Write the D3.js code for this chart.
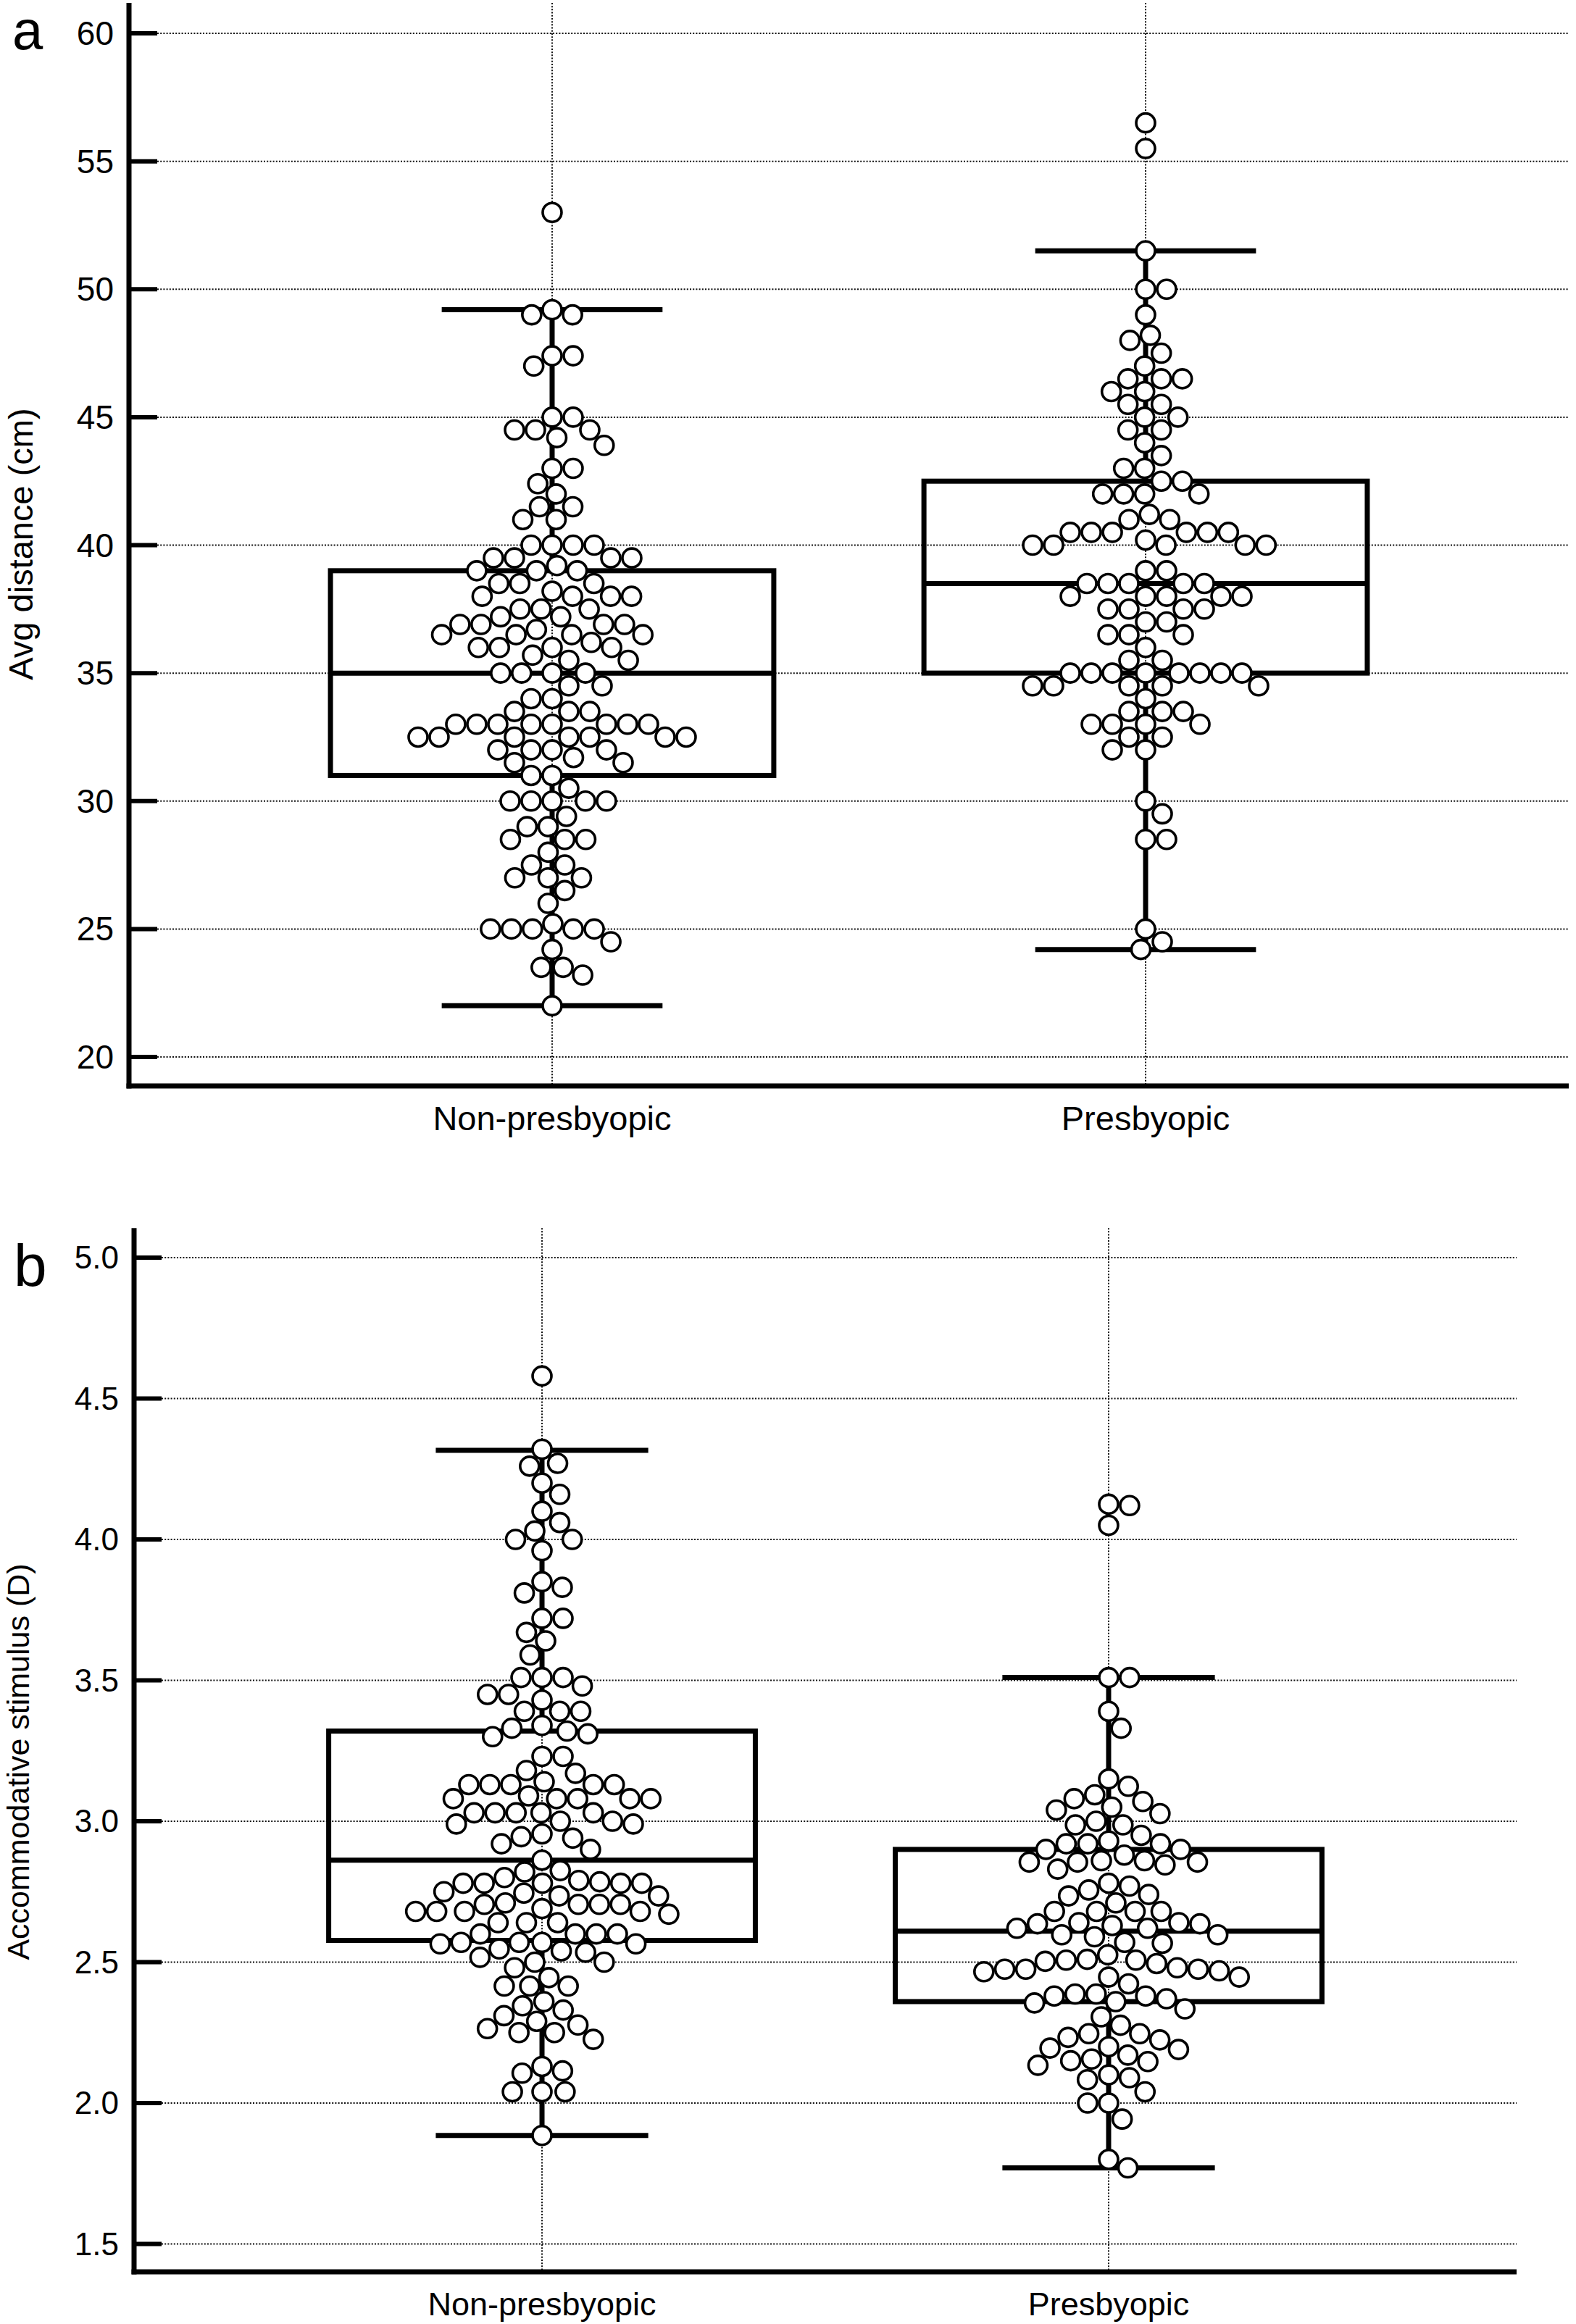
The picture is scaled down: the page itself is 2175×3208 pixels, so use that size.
<!DOCTYPE html>
<html><head><meta charset="utf-8">
<script src="https://cdn.jsdelivr.net/npm/d3@7"></script>
<style>
body{margin:0;background:#fff}
text{font-family:"Liberation Sans",Arial,Helvetica,sans-serif;fill:#000}
</style>
</head><body>
<svg id="chart" width="2175" height="3208"></svg>
<script>
// ---------------- DATA ----------------
const categories = ["Non-presbyopic", "Presbyopic"];

const distNonPresbyopic = [53.0,49.0,49.0,49.2,47.4,47.4,47.0,45.0,45.0,44.5,44.5,44.5,44.2,43.9,43.0,43.0,42.4,42.0,41.5,41.5,41.0,41.0,
 40.0,40.0,40.0,40.0,39.5,39.5,39.5,39.5,39.2,39.0,39.0,39.0,38.5,38.5,38.5,38.2,38.0,38.0,38.0,38.0,
 37.5,37.5,37.5,37.2,37.2,36.9,36.9,36.9,36.9,36.7,36.5,36.5,36.5,36.5,36.2,36.0,36.0,36.0,36.0,35.7,35.5,35.5,
 35.0,35.0,35.0,35.0,34.5,34.5,34.0,34.0,33.5,33.5,33.5,33.0,33.0,33.0,33.0,33.0,33.0,33.0,33.0,
 32.5,32.5,32.5,32.5,32.5,32.5,32.5,32.0,32.0,32.0,32.0,31.7,31.5,31.5,31.0,31.0,30.5,30.0,30.0,30.0,30.0,30.0,
 29.4,29.0,29.0,28.5,28.5,28.5,28.0,27.5,27.5,27.0,27.0,27.0,26.5,26.0,25.2,25.0,25.0,25.0,25.0,25.0,24.5,24.2,23.5,23.5,23.2,22.0];

const distPresbyopic = [56.5,55.5,51.5,50.0,50.0,49.0,48.2,48.0,47.5,47.0,46.5,46.5,46.5,46.0,46.0,45.5,45.5,45.0,45.0,44.5,44.5,44.0,43.5,
 43.0,43.0,42.5,42.5,42.0,42.0,42.0,42.0,41.2,41.0,41.0,40.5,40.5,40.5,40.5,40.5,40.5,40.2,40.0,40.0,40.0,40.0,40.0,39.0,39.0,
 38.5,38.5,38.5,38.5,38.5,38.0,38.0,38.0,38.0,38.0,37.5,37.5,37.5,37.5,37.0,37.0,36.5,36.5,36.5,36.0,35.5,35.5,
 35.0,35.0,35.0,35.0,35.0,35.0,35.0,35.0,34.5,34.5,34.5,34.5,34.5,34.0,33.5,33.5,33.5,33.0,33.0,33.0,33.0,32.5,32.5,32.0,32.0,
 30.0,29.5,28.5,28.5,25.0,24.5,24.2];

const stimNonPresbyopic = [4.58,4.32,4.27,4.26,4.20,4.16,4.10,4.06,4.03,4.00,4.00,3.96,3.85,3.83,3.81,3.72,3.72,3.67,3.64,3.59,
 3.51,3.51,3.51,3.48,3.45,3.45,3.43,3.39,3.39,3.39,3.34,3.33,3.32,3.31,3.30,3.23,3.23,3.18,3.17,3.14,3.13,3.13,3.13,3.13,3.13,
 3.09,3.08,3.08,3.08,3.08,3.08,3.03,3.03,3.03,3.03,3.03,2.99,2.99,3.00,3.00,2.955,2.94,2.945,2.90,2.92,2.862,2.82,2.825,
 2.78,2.78,2.78,2.78,2.78,2.785,2.79,2.80,2.735,2.735,2.745,2.75,2.71,2.705,2.705,2.705,2.705,2.67,2.68,2.68,2.68,2.68,2.69,
 2.64,2.64,2.64,2.60,2.60,2.60,2.60,2.565,2.565,2.57,2.57,2.57,2.535,2.54,2.547,2.50,2.50,2.517,2.48,2.445,2.415,2.415,2.415,
 2.36,2.345,2.33,2.31,2.29,2.277,2.25,2.25,2.264,2.226,2.13,2.114,2.106,2.04,2.04,2.04,1.885];

const stimPresbyopic = [4.125,4.12,4.05,3.51,3.51,3.39,3.33,3.15,3.124,3.094,3.08,3.07,3.05,3.04,3.027,3.00,2.987,2.987,2.95,2.93,
 2.92,2.92,2.92,2.90,2.90,2.88,2.83,2.845,2.855,2.855,2.855,2.86,2.86,2.78,2.756,2.77,2.735,2.74,2.71,2.68,2.68,2.68,2.68,
 2.62,2.62,2.636,2.636,2.63,2.64,2.64,2.597,2.59,2.597,2.57,2.567,2.526,2.475,2.475,2.475,2.48,2.495,2.503,2.507,2.507,2.51,
 2.447,2.447,2.469,2.466,2.423,2.355,2.36,2.37,2.38,2.38,2.387,2.387,2.334,2.306,2.276,2.246,2.246,2.233,2.224,2.19,2.195,2.20,
 2.17,2.156,2.134,2.147,2.15,2.10,2.083,2.09,2.04,2.00,2.00,1.943,1.80,1.77];

// box statistics: [lower whisker, Q1, median, Q3, upper whisker]
const distBoxStats = [[22.0,31.0,35.0,39.0,49.2],[24.2,35.0,38.5,42.5,51.5]];
const stimBoxStats = [[1.885,2.577,2.862,3.32,4.316],[1.77,2.36,2.61,2.90,3.51]];

const distTicks = [20,25,30,35,40,45,50,55,60];
const stimTicks = [1.5,2.0,2.5,3.0,3.5,4.0,4.5,5.0];

// ---------------- DRAW ----------------
const svg = d3.select("#chart");

function swarm(values, y, D){
  const pts = values.map(v => ({v, y: y(v), dx: 0})).sort((a,b) => a.y - b.y);
  const placed = [];
  for (const p of pts){
    const blocked = [];
    for (const q of placed){
      const dy = Math.abs(q.y - p.y);
      if (dy < D){ const w = Math.sqrt(D*D - dy*dy); blocked.push([q.dx - w, q.dx + w]); }
    }
    const cands = [0];
    blocked.forEach(b => { cands.push(b[0], b[1]); });
    cands.sort((a,b) => (Math.abs(a) - Math.abs(b)) || (b - a));
    for (const c of cands){
      if (blocked.every(b => c <= b[0] + 1e-6 || c >= b[1] - 1e-6)){ p.dx = c; break; }
    }
    placed.push(p);
  }
  return pts;
}

function drawPanel(cfg){
  const g = svg.append("g");
  const y = d3.scaleLinear().domain(cfg.yDomain).range(cfg.yRange);
  const x = d3.scalePoint().domain(categories).range([cfg.x0, cfg.x1]).padding(cfg.pad);
  const step = x.step();
  const yTop = y(cfg.axisMax), yBot = y(cfg.axisMin);

  g.selectAll(".hg").data(cfg.ticks).join("line")
    .attr("x1", cfg.x0 + cfg.tickLen).attr("x2", cfg.x1)
    .attr("y1", d => y(d)).attr("y2", d => y(d))
    .attr("stroke", "#111").attr("stroke-width", 2).attr("stroke-dasharray", "2,2.2");
  g.selectAll(".vg").data(categories).join("line")
    .attr("x1", d => x(d)).attr("x2", d => x(d))
    .attr("y1", yTop).attr("y2", yBot)
    .attr("stroke", "#111").attr("stroke-width", 2).attr("stroke-dasharray", "2,2.2");

  const bw = step * cfg.boxFrac, cw = step * cfg.capFrac, sw = 7;
  cfg.stats.forEach((s, i) => {
    const cx = x(categories[i]);
    const [lo, q1, med, q3, hi] = s;
    g.append("line").attr("x1", cx).attr("x2", cx).attr("y1", y(hi)).attr("y2", y(q3)).attr("stroke", "#000").attr("stroke-width", sw);
    g.append("line").attr("x1", cx).attr("x2", cx).attr("y1", y(q1)).attr("y2", y(lo)).attr("stroke", "#000").attr("stroke-width", sw);
    g.append("line").attr("x1", cx - cw/2).attr("x2", cx + cw/2).attr("y1", y(hi)).attr("y2", y(hi)).attr("stroke", "#000").attr("stroke-width", sw);
    g.append("line").attr("x1", cx - cw/2).attr("x2", cx + cw/2).attr("y1", y(lo)).attr("y2", y(lo)).attr("stroke", "#000").attr("stroke-width", sw);
    g.append("rect").attr("x", cx - bw/2).attr("y", y(q3)).attr("width", bw).attr("height", y(q1) - y(q3))
      .attr("fill", "none").attr("stroke", "#000").attr("stroke-width", sw);
    g.append("line").attr("x1", cx - bw/2).attr("x2", cx + bw/2).attr("y1", y(med)).attr("y2", y(med)).attr("stroke", "#000").attr("stroke-width", sw);
  });

  cfg.series.forEach((vals, i) => {
    const cx = x(categories[i]);
    const pts = swarm(vals, y, cfg.D);
    g.append("g").selectAll("circle").data(pts).join("circle")
      .attr("cx", d => cx + d.dx).attr("cy", d => d.y).attr("r", 13)
      .attr("fill", "#fff").attr("stroke", "#000").attr("stroke-width", 3.6);
  });

  g.append("line").attr("x1", cfg.x0).attr("x2", cfg.x0).attr("y1", yTop).attr("y2", yBot + 3.5)
    .attr("stroke", "#000").attr("stroke-width", 7);
  g.append("line").attr("x1", cfg.x0 - 3.5).attr("x2", cfg.x1).attr("y1", yBot).attr("y2", yBot)
    .attr("stroke", "#000").attr("stroke-width", 7);
  g.selectAll(".tk").data(cfg.ticks).join("line")
    .attr("x1", cfg.x0).attr("x2", cfg.x0 + cfg.tickLen).attr("y1", d => y(d)).attr("y2", d => y(d))
    .attr("stroke", "#000").attr("stroke-width", 6);
  g.selectAll(".tl").data(cfg.ticks).join("text")
    .attr("x", cfg.x0 - 21).attr("y", d => y(d)).attr("dy", "0.35em")
    .attr("text-anchor", "end").attr("font-size", cfg.tickFont)
    .text(d => cfg.fmt(d));
  g.selectAll(".xl").data(categories).join("text")
    .attr("x", d => x(d)).attr("y", cfg.xLabelY).attr("text-anchor", "middle")
    .attr("font-size", cfg.xFont).text(d => d);
  g.append("text").attr("transform", `translate(${cfg.yLabelX},${cfg.yLabelY}) rotate(-90)`)
    .attr("text-anchor", "middle").attr("dy", "0.35em").attr("font-size", cfg.yFont).text(cfg.yLabel);
  g.append("text").attr("x", cfg.letterX).attr("y", cfg.letterY).attr("font-size", cfg.letterFont).text(cfg.letter);
}

drawPanel({
  letter: "a", letterX: 17, letterY: 68, letterFont: 76,
  yDomain: [20, 60], yRange: [1459, 46], axisMin: 18.87, axisMax: 61.19,
  x0: 178, x1: 2165, pad: 0.713, tickLen: 39,
  ticks: distTicks, fmt: d3.format("d"), tickFont: 46,
  stats: distBoxStats, series: [distNonPresbyopic, distPresbyopic],
  boxFrac: 0.747, capFrac: 0.372, D: 29,
  xLabelY: 1560, xFont: 47,
  yLabel: "Avg distance (cm)", yLabelX: 29, yLabelY: 751, yFont: 47
});

drawPanel({
  letter: "b", letterX: 19, letterY: 1775, letterFont: 82,
  yDomain: [2.0, 5.0], yRange: [2903, 1736], axisMin: 1.401, axisMax: 5.105,
  x0: 185, x1: 2093, pad: 0.72, tickLen: 38,
  ticks: stimTicks, fmt: d3.format(".1f"), tickFont: 44,
  stats: stimBoxStats, series: [stimNonPresbyopic, stimPresbyopic],
  boxFrac: 0.753, capFrac: 0.375, D: 29,
  xLabelY: 3196, xFont: 45,
  yLabel: "Accommodative stimulus (D)", yLabelX: 25, yLabelY: 2432, yFont: 43
});
</script>
</body></html>
